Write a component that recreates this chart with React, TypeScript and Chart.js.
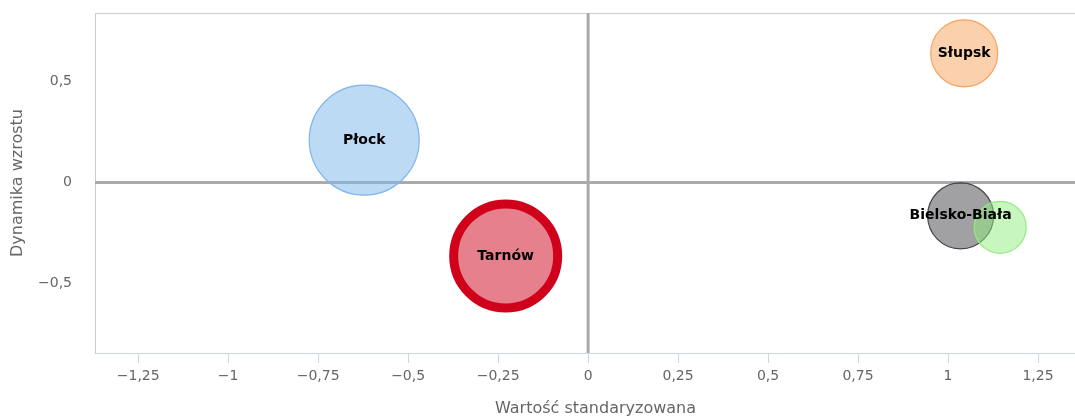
import React, { useEffect, useRef } from "react";
import { Chart, registerables } from "chart.js";

Chart.register(...registerables);

const cities = ["Płock", "Bielsko-Biała", "", "Słupsk", "Tarnów"];
const xValues = [-0.622, 1.035, 1.145, 1.045, -0.229];
const yValues = [0.21, -0.165, -0.222, 0.64, -0.364];
const sizes = [55, 33, 26, 33.5, 52];
const fillColors = [
  "rgba(124,181,236,0.5)",
  "rgba(67,67,72,0.5)",
  "rgba(144,237,125,0.5)",
  "rgba(247,163,92,0.5)",
  "rgba(208,2,27,0.5)",
];
const borderColors = ["#7cb5ec", "#434348", "#90ed7d", "#f7a35c", "#d0021b"];
const borderWidths = [1.2, 1.2, 1.2, 1.2, 9];

const xTicks = [-1.25, -1, -0.75, -0.5, -0.25, 0, 0.25, 0.5, 0.75, 1, 1.25];
const yTicks = [-0.5, 0, 0.5];
const xMin = -1.37;
const xMax = 1.35;
const yMin = -0.845;
const yMax = 0.84;

const xTitle = "Wartość standaryzowana";
const yTitle = "Dynamika wzrostu";

const FONT = "'DejaVu Sans', sans-serif";

function fmt(v: number): string {
  const s = String(Math.abs(v)).replace(".", ",");
  return v < 0 ? "\u2212" + s : s;
}

const decorPlugin = {
  id: "decor",
  beforeDatasetsDraw(chart: any) {
    const { ctx, chartArea, scales } = chart;
    ctx.save();
    ctx.strokeStyle = "#cccccc";
    ctx.lineWidth = 1;
    ctx.beginPath();
    ctx.moveTo(chartArea.left, chartArea.top + 0.5);
    ctx.lineTo(chartArea.right + 1, chartArea.top + 0.5);
    ctx.stroke();
    ctx.strokeStyle = "#aaaaaa";
    ctx.lineWidth = 3;
    const y0 = scales.y.getPixelForValue(0);
    const x0 = scales.x.getPixelForValue(0);
    ctx.beginPath();
    ctx.moveTo(chartArea.left, y0);
    ctx.lineTo(chartArea.right + 1, y0);
    ctx.moveTo(x0, chartArea.top);
    ctx.lineTo(x0, chartArea.bottom);
    ctx.stroke();
    ctx.restore();
  },
  afterDatasetsDraw(chart: any) {
    const { ctx } = chart;
    const meta = chart.getDatasetMeta(0);
    ctx.save();
    ctx.font = "bold 14px " + FONT;
    ctx.fillStyle = "#000000";
    ctx.textAlign = "center";
    ctx.textBaseline = "middle";
    meta.data.forEach((el: any, i: number) => {
      const label = cities[i];
      if (label) ctx.fillText(label, el.x, el.y);
    });
    ctx.restore();
  },
  afterDraw(chart: any) {
    const { ctx, chartArea } = chart;
    ctx.save();
    ctx.font = "16px " + FONT;
    ctx.fillStyle = "#666666";
    ctx.textAlign = "center";
    ctx.textBaseline = "alphabetic";
    ctx.fillText(xTitle, (chartArea.left + chartArea.right) / 2 + 11, 413);
    ctx.restore();
  },
};

export default function App() {
  const canvasRef = useRef<HTMLCanvasElement | null>(null);

  useEffect(() => {
    document.body.style.margin = "0";
    const canvas = canvasRef.current;
    if (!canvas) return;
    const chart = new Chart(canvas, {
      type: "bubble",
      data: {
        datasets: [
          {
            label: "Miasta",
            data: xValues.map((x, i) => ({ x, y: yValues[i], r: sizes[i] })),
            backgroundColor: fillColors,
            borderColor: borderColors,
            borderWidth: borderWidths,
            hoverBorderWidth: borderWidths,
            clip: false,
          },
        ],
      },
      options: {
        responsive: false,
        animation: false,
        events: [],
        layout: { autoPadding: false, padding: { top: 13, right: 1, left: 0, bottom: 0 } },
        plugins: {
          legend: { display: false },
          tooltip: { enabled: false },
        },
        scales: {
          x: {
            type: "linear",
            min: xMin,
            max: xMax,
            afterBuildTicks: (scale: any) => {
              scale.ticks = xTicks.map((v) => ({ value: v }));
            },
            afterFit: (scale: any) => {
              scale.height = 64;
              scale.paddingLeft = 0;
              scale.paddingRight = 0;
            },
            grid: {
              display: true,
              drawOnChartArea: false,
              drawTicks: true,
              tickLength: 10,
              color: "#ccd6eb",
            },
            border: { display: true, color: "#ccd6eb", width: 1 },
            ticks: {
              font: { family: FONT, size: 14 },
              color: "#666666",
              padding: 5,
              maxRotation: 0,
              autoSkip: false,
              callback: (v: any) => fmt(Number(v)),
            },
          },
          y: {
            type: "linear",
            min: yMin,
            max: yMax,
            afterBuildTicks: (scale: any) => {
              scale.ticks = yTicks.map((v) => ({ value: v }));
            },
            afterFit: (scale: any) => {
              scale.width = 95;
              scale.paddingTop = 0;
              scale.paddingBottom = 0;
            },
            grid: {
              display: true,
              drawOnChartArea: false,
              drawTicks: false,
            },
            border: { display: true, color: "#cccccc", width: 1 },
            ticks: {
              font: { family: FONT, size: 14 },
              color: "#666666",
              padding: 23,
              autoSkip: false,
              callback: (v: any) => fmt(Number(v)),
            },
            title: {
              display: true,
              text: yTitle,
              color: "#666666",
              font: { family: FONT, size: 16 },
              padding: { top: 8, bottom: 0 },
            },
          },
        },
      },
      plugins: [decorPlugin],
    });
    return () => chart.destroy();
  }, []);

  return (
    <div style={{ position: "absolute", left: 0, top: 0, width: 1075, height: 417 }}>
      <canvas ref={canvasRef} width={1075} height={417} />
    </div>
  );
}
